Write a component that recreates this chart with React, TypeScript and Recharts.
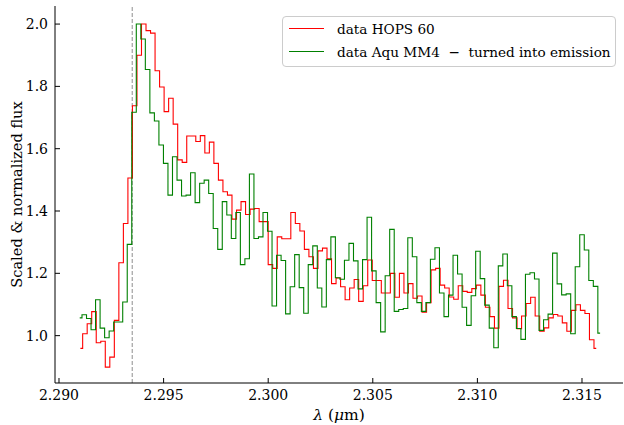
import { LineChart, Line, XAxis, YAxis, ReferenceLine } from "recharts";

// wavelength grid of each spectrum (first pixel + pixel width, in micron)
const HOPS60_LAMBDA0 = 2.291023;
const AQU_MM4_LAMBDA0 = 2.290991;
const D_LAMBDA = 0.0002163;

const HOPS60_FLUX = [
  0.959, 1.006, 1.038, 1.077, 0.977, 0.982, 0.899, 0.931, 1.049, 1.234, 1.36,
  1.506, 1.738, 1.9, 2.0, 1.979, 1.971, 1.85, 1.798, 1.719, 1.762,
  1.679, 1.564, 1.556, 1.641, 1.641, 1.623, 1.642, 1.586, 1.621, 1.553,
  1.499, 1.462, 1.451, 1.374, 1.403, 1.43, 1.389, 1.406, 1.408, 1.366,
  1.366, 1.228, 1.216, 1.317, 1.311, 1.311, 1.395, 1.36, 1.336, 1.277,
  1.253, 1.216, 1.272, 1.281, 1.247, 1.167, 1.185, 1.157, 1.115, 1.153,
  1.18, 1.11, 1.16, 1.243, 1.177, 1.177, 1.137, 1.137, 1.2, 1.123,
  1.2, 1.137, 1.167, 1.12, 1.127, 1.075, 1.106, 1.211, 1.216, 1.162,
  1.153, 1.124, 1.117, 1.16, 1.142, 1.139, 1.151, 1.162, 1.13, 1.091,
  1.061, 1.024, 1.158, 1.178, 1.087, 1.057, 1.022, 1.063, 1.103, 1.123,
  1.063, 1.014, 1.025, 1.057, 1.068, 1.063, 1.041, 1.014, 1.081, 1.099,
  1.081, 1.071, 0.987, 0.959,
];

const AQU_MM4_FLUX = [
  1.057, 1.067, 1.055, 1.019, 1.115, 1.024, 0.993, 1.015, 1.044, 1.044, 1.108,
  1.293, 1.717, 2.0, 1.952, 1.854, 1.715, 1.689, 1.612, 1.553, 1.451,
  1.574, 1.499, 1.448, 1.451, 1.523, 1.427, 1.489, 1.499, 1.456, 1.344,
  1.277, 1.43, 1.387, 1.312, 1.395, 1.228, 1.247, 1.519, 1.312, 1.317,
  1.395, 1.335, 1.095, 1.258, 1.241, 1.07, 1.157, 1.26, 1.154, 1.072,
  1.228, 1.288, 1.153, 1.092, 1.244, 1.317, 1.186, 1.181, 1.242, 1.296,
  1.24, 1.15, 1.244, 1.38, 1.208, 1.106, 1.012, 1.192, 1.341, 1.078,
  1.084, 1.087, 1.314, 1.253, 1.106, 1.078, 1.106, 1.245, 1.282, 1.137,
  1.061, 1.13, 1.258, 1.198, 1.091, 1.033, 1.128, 1.271, 1.183, 1.098,
  1.024, 0.961, 1.224, 1.262, 1.16, 1.061, 1.023, 0.988, 1.197, 1.202,
  1.182, 1.017, 1.051, 1.069, 1.265, 1.166, 1.131, 1.134, 1.006, 1.221,
  1.324, 1.275, 1.177, 1.158, 1.008,
];

const X_TICKS = [2.29, 2.295, 2.3, 2.305, 2.31, 2.315];
const Y_TICKS = [1.0, 1.2, 1.4, 1.6, 1.8, 2.0];
const X_DOMAIN = [2.289809, 2.31696];
const Y_DOMAIN = [0.848, 2.058];
const BANDHEAD = 2.2935;

const LEGEND = [
  { name: "data HOPS 60", color: "#ff0000" },
  { name: "data Aqu MM4  \u2212  turned into emission", color: "#008000" },
];

const FONT = "'DejaVu Serif', serif";
const TICK_FONT = { fontFamily: FONT, fontSize: 14 };
const TICK_LEN = 5;

const hopsData = HOPS60_FLUX.map((flux, i) => ({
  lambda: HOPS60_LAMBDA0 + i * D_LAMBDA,
  flux,
}));
const aquData = AQU_MM4_FLUX.map((flux, i) => ({
  lambda: AQU_MM4_LAMBDA0 + i * D_LAMBDA,
  flux,
}));

function BottomTick({ x, y, payload }: any) {
  return (
    <g>
      <line x1={x} y1={y} x2={x} y2={y - TICK_LEN} stroke="#000" strokeWidth={1} />
      <text x={x} y={y + 17} textAnchor="middle" style={TICK_FONT} fill="#000">
        {Number(payload.value).toFixed(3)}
      </text>
    </g>
  );
}

function LeftTick({ x, y, payload }: any) {
  return (
    <g>
      <line x1={x} y1={y} x2={x + TICK_LEN} y2={y} stroke="#000" strokeWidth={1} />
      <text x={x - 7} y={y + 5} textAnchor="end" style={TICK_FONT} fill="#000">
        {Number(payload.value).toFixed(1)}
      </text>
    </g>
  );
}

function TopTick({ x, y }: any) {
  return <line x1={x} y1={y} x2={x} y2={y + TICK_LEN} stroke="#000" strokeWidth={1} />;
}

function RightTick({ x, y }: any) {
  return <line x1={x} y1={y} x2={x - TICK_LEN} y2={y} stroke="#000" strokeWidth={1} />;
}

function XTitle(props: any) {
  const vb = props.viewBox || props;
  return (
    <text
      x={vb.x + vb.width / 2}
      y={vb.y + 37}
      textAnchor="middle"
      style={{ fontFamily: FONT, fontSize: 15.5 }}
      fill="#000"
    >
      <tspan fontStyle="italic">λ</tspan> (<tspan fontStyle="italic">μ</tspan>m)
    </text>
  );
}

function YTitle(props: any) {
  const vb = props.viewBox || props;
  const cx = 22;
  const cy = vb.y + vb.height / 2;
  return (
    <text
      x={cx}
      y={cy}
      transform={`rotate(-90 ${cx} ${cy})`}
      textAnchor="middle"
      style={{ fontFamily: FONT, fontSize: 14.6 }}
      fill="#000"
    >
      Scaled &amp; normalized flux
    </text>
  );
}

function LegendBox() {
  return (
    <div
      style={{
        position: "absolute",
        left: 282,
        top: 16,
        width: 334,
        height: 51,
        border: "1px solid #cccccc",
        borderRadius: 4,
        background: "rgba(255,255,255,0.8)",
        boxSizing: "border-box",
        fontFamily: FONT,
        fontSize: 13.6,
        color: "#000",
      }}
    >
      {LEGEND.map((item, i) => (
        <div
          key={item.name}
          style={{ position: "absolute", left: 0, top: i * 23.4, height: 24, width: "100%" }}
        >
          <div
            style={{
              position: "absolute",
              left: 6,
              top: 11,
              width: 35,
              borderTop: `1.2px solid ${item.color}`,
            }}
          />
          <span style={{ position: "absolute", left: 54, top: 1, lineHeight: "22px", whiteSpace: "pre" }}>
            {item.name}
          </span>
        </div>
      ))}
    </div>
  );
}

export default function App() {
  return (
    <div style={{ position: "absolute", left: 0, top: 0, width: 624, height: 425, background: "#fff", fontFamily: FONT }}>
      <LineChart width={624} height={425} margin={{ top: 6, right: 1, bottom: 0, left: 0 }}>
        <XAxis
          type="number"
          dataKey="lambda"
          domain={X_DOMAIN}
          allowDataOverflow
          ticks={X_TICKS}
          interval={0}
          height={42}
          tickSize={0}
          tickMargin={0}
          tickLine={false}
          axisLine={{ stroke: "#000" }}
          tick={BottomTick}
          label={<XTitle />}
        />
        <XAxis
          xAxisId="top"
          orientation="top"
          type="number"
          domain={X_DOMAIN}
          allowDataOverflow
          ticks={X_TICKS}
          interval={0}
          height={0}
          tickSize={0}
          tickMargin={0}
          tickLine={false}
          axisLine={{ stroke: "#000" }}
          tick={TopTick}
        />
        <YAxis
          type="number"
          domain={Y_DOMAIN}
          allowDataOverflow
          ticks={Y_TICKS}
          interval={0}
          width={55}
          tickSize={0}
          tickMargin={0}
          tickLine={false}
          axisLine={{ stroke: "#000" }}
          tick={LeftTick}
          label={<YTitle />}
        />
        <YAxis
          yAxisId="right"
          orientation="right"
          type="number"
          domain={Y_DOMAIN}
          allowDataOverflow
          ticks={Y_TICKS}
          interval={0}
          width={0}
          tickSize={0}
          tickMargin={0}
          tickLine={false}
          axisLine={{ stroke: "#000" }}
          tick={RightTick}
        />
        <ReferenceLine x={BANDHEAD} stroke="#808080" strokeWidth={0.9} strokeDasharray="4 2" />
        <Line
          data={hopsData}
          dataKey="flux"
          type="step"
          stroke="#ff0000"
          strokeWidth={1.1}
          dot={false}
          activeDot={false}
          isAnimationActive={false}
        />
        <Line
          data={aquData}
          dataKey="flux"
          type="step"
          stroke="#008000"
          strokeWidth={1.1}
          dot={false}
          activeDot={false}
          isAnimationActive={false}
        />
      </LineChart>
      <LegendBox />
    </div>
  );
}
